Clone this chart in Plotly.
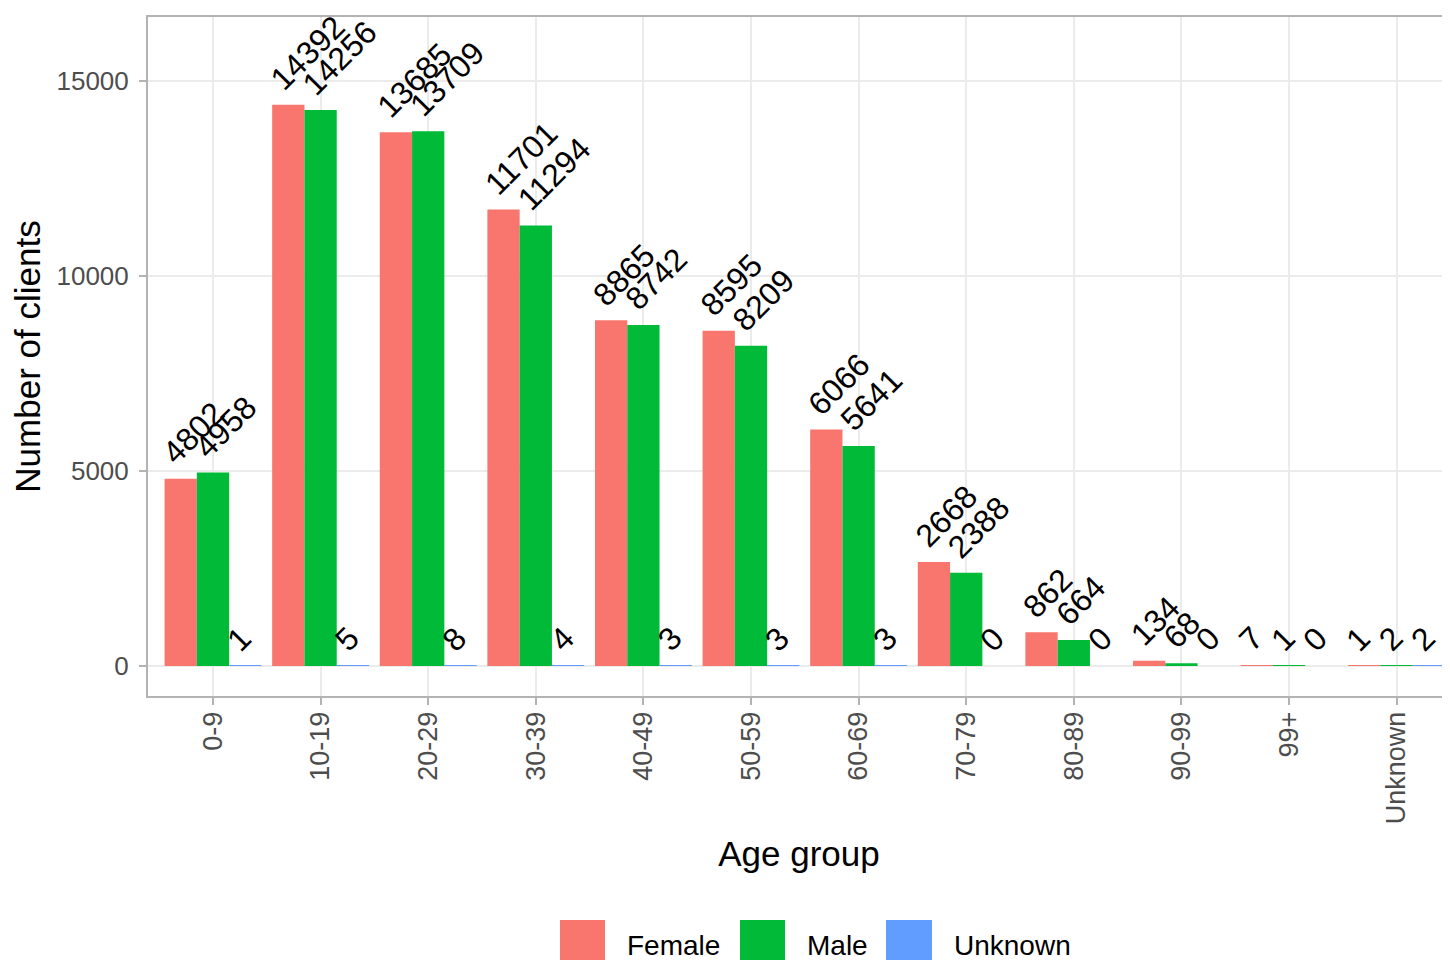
import plotly.graph_objects as go

# ---- data ----
age_groups = ["0-9", "10-19", "20-29", "30-39", "40-49", "50-59", "60-69",
              "70-79", "80-89", "90-99", "99+", "Unknown"]
female = [4802, 14392, 13685, 11701, 8865, 8595, 6066, 2668, 862, 134, 7, 1]
male = [4958, 14256, 13709, 11294, 8742, 8209, 5641, 2388, 664, 68, 1, 2]
unknown = [1, 5, 8, 4, 3, 3, 3, 0, 0, 0, 0, 2]
series_names = ["Female", "Male", "Unknown"]
series_values = [female, male, unknown]
series_colors = ["#F8766D", "#00BA38", "#619CFF"]

FONT = "Liberation Sans, Arial, sans-serif"
PAGE = 8  # default page margin of the html body
W, H = 1450 - PAGE, 960 - PAGE
ML, MT = 148 - PAGE, 17 - PAGE
MR = 0
MB = H - (696 - PAGE)
PW, PH = W - ML - MR, H - MT - MB

def px_x(p):
    """screen pixel -> paper x"""
    return (p - PAGE - ML) / PW

def px_y(p):
    """screen pixel -> paper y"""
    return (H - MB - (p - PAGE)) / PH

fig = go.Figure()
for name, vals, col in zip(series_names, series_values, series_colors):
    fig.add_trace(go.Bar(x=age_groups, y=vals, name=name,
                         marker=dict(color=col, line=dict(width=0)),
                         showlegend=False))

# value labels (rotated, starting at bar top)
annotations = []
n = len(series_names)
for k, vals in enumerate(series_values):
    off = (k - (n - 1) / 2) * 0.3
    for i, v in enumerate(vals):
        annotations.append(dict(
            x=i + off, y=v, xref="x", yref="y", text=str(v),
            showarrow=False, textangle=-45, xanchor="left", yanchor="bottom",
            xshift=-28, yshift=5,
            font=dict(family=FONT, size=32, color="black")))

# manual legend (large keys as in the reference)
legend_keys = [(560, 605), (740, 785), (886, 932)]
text_starts = [625, 805, 952]
shapes = []
for (x0, x1), ts, name, col in zip(legend_keys, text_starts, series_names, series_colors):
    shapes.append(dict(type="rect", xref="paper", yref="paper",
                       x0=px_x(x0), x1=px_x(x1), y0=px_y(920), y1=px_y(966),
                       fillcolor=col, line=dict(width=0), layer="above"))
    annotations.append(dict(x=px_x(ts), y=px_y(945), xref="paper", yref="paper",
                            text=name, showarrow=False, xanchor="left", yanchor="middle",
                            font=dict(family=FONT, size=28, color="black")))

fig.update_layout(
    width=W, height=H,
    margin=dict(l=ML, r=MR, t=MT, b=MB, pad=0),
    paper_bgcolor="white", plot_bgcolor="white",
    barmode="group", bargap=0.1, bargroupgap=0,
    font=dict(family=FONT),
    annotations=annotations, shapes=shapes,
    xaxis=dict(
        type="category", range=[-0.604, 11.496],
        showgrid=True, gridcolor="#EBEBEB", gridwidth=1.5,
        showline=True, mirror=True, linecolor="#B3B3B3", linewidth=2,
        ticks="outside", ticklen=7, tickcolor="#B3B3B3", tickwidth=1.5,
        tickangle=-90, ticklabelstandoff=-4,
        tickfont=dict(family=FONT, size=27, color="#4D4D4D"),
        title=dict(text="Age group", font=dict(family=FONT, size=35, color="black"), standoff=18),
    ),
    yaxis=dict(
        range=[-770, 16640], dtick=5000, tickformat="d",
        showgrid=True, gridcolor="#EBEBEB", gridwidth=1.5, zeroline=False,
        showline=True, mirror=False, linecolor="#B3B3B3", linewidth=2,
        ticks="outside", ticklen=7, tickcolor="#B3B3B3", tickwidth=1.5,
        ticklabelstandoff=5,
        tickfont=dict(family=FONT, size=26, color="#4D4D4D"),
        title=dict(text="Number of clients", font=dict(family=FONT, size=35, color="black"), standoff=12),
    ),
)

fig.write_html("out.html")
